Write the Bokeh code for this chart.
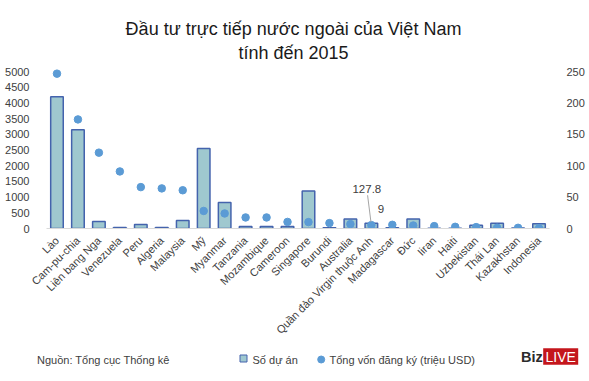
from math import pi
from bokeh.plotting import figure
from bokeh.layouts import column
from bokeh.models import Range1d, LinearAxis, FixedTicker, FactorRange, ColumnDataSource
from bokeh.transform import dodge
from bokeh.core.properties import value
from bokeh.embed import file_html
from bokeh.resources import INLINE

# ---------------- data ----------------
categories = ["Lào", "Cam-pu-chia", "Liên bang Nga", "Venezuela", "Peru", "Algeria",
              "Malaysia", "Mỹ", "Myanmar", "Tanzania", "Mozambique", "Cameroon",
              "Singapore", "Burundi", "Australia", "Quần đảo Virgin thuộc Anh",
              "Madagascar", "Đức", "Iiran", "Haiti", "Uzbekistan", "Thái Lan",
              "Kazakhstan", "Indonesia"]
so_du_an = [4200, 3150, 225, 30, 125, 30, 255, 2550, 830, 65, 65, 65,
            1200, 20, 300, 170, 20, 300, 10, 10, 100, 170, 15, 150]
tong_von = [247, 174, 121, 91, 66, 64, 61, 28, 24, 17.6, 17.6, 10.5,
            10.2, 8.6, 7.0, 5.4, 5.9, 4.8, 3.8, 2.7, 2.2, 1.1, 1.1, 0.5]
left_ticks = [0, 500, 1000, 1500, 2000, 2500, 3000, 3500, 4000, 4500, 5000]
right_ticks = [0, 50, 100, 150, 200, 250]
title_lines = ["Đầu tư trực tiếp nước ngoài của Việt Nam", "tính đến 2015"]
source_text = "Nguồn: Tổng cục Thống kê"
legend_labels = ["Số dự án", "Tổng vốn đăng ký (triệu USD)"]
annot_cat = "Quần đảo Virgin thuộc Anh"
annot_texts = ["127.8", "9"]

# ---------------- styles ----------------
FONT = "Liberation Sans"
BAR_FILL = "#9fc8cf"
BAR_LINE = "#4463ad"
DOT = "#5b9bd5"
TXT = "#404040"
W = 589
HEAD_H = 64
FOOT_H = 36

# ---------------- header ----------------
h = figure(width=W, height=HEAD_H, x_range=Range1d(0, W), y_range=Range1d(HEAD_H, 0),
           min_border=0, output_backend="svg", toolbar_location=None,
           x_axis_type=None, y_axis_type=None, frame_align=False)
h.outline_line_color = None
h.text(x=[293, 293], y=[28, 52.5], text=title_lines, text_align="center",
       text_baseline="alphabetic", text_font=value(FONT), text_font_size="18px",
       text_color="#1a1a1a")

# ---------------- main chart ----------------
p = figure(x_range=FactorRange(*categories), y_range=Range1d(0, 5200),
           frame_width=503, frame_height=163, output_backend="svg",
           toolbar_location=None, min_border_left=46, min_border_right=40,
           min_border_top=1, min_border_bottom=117, frame_align=False)
p.extra_y_ranges = {"right": Range1d(0, 260)}
p.add_layout(LinearAxis(y_range_name="right"), "right")

p.vbar(x=categories, top=so_du_an, width=0.6, fill_color=BAR_FILL,
       line_color=BAR_LINE, line_width=1.5)
p.scatter(x=categories, y=tong_von, y_range_name="right", size=7.5,
          fill_color=DOT, line_color=DOT)

idx = categories.index(annot_cat)
src = ColumnDataSource(dict(x=[annot_cat], y0=[53.0], y1=[10.5]))
p.segment(x0=dodge("x", -0.18, range=p.x_range), y0="y0",
          x1=dodge("x", -0.02, range=p.x_range), y1="y1",
          source=src, y_range_name="right", line_color="#a6a6a6", line_width=1)
p.text(x=[annot_cat, annot_cat], y=[tong_von[idx], tong_von[idx]], text=annot_texts,
       x_offset=[-4.5, 9.5], y_offset=[-36, -16.5], y_range_name="right",
       text_align="center", text_baseline="middle", text_font=value(FONT),
       text_font_size="11.5px", text_color=TXT)

p.yaxis[0].ticker = FixedTicker(ticks=left_ticks)
p.yaxis[1].ticker = FixedTicker(ticks=right_ticks)
for ax in p.yaxis:
    ax.axis_line_color = None
    ax.major_tick_line_color = None
    ax.minor_tick_line_color = None
    ax.major_label_text_font = FONT
    ax.major_label_text_font_size = "11px"
    ax.major_label_text_color = TXT
    ax.major_label_standoff = 11
xa = p.xaxis[0]
xa.axis_line_color = "#d9d9d9"
xa.major_tick_line_color = None
xa.minor_tick_line_color = None
xa.major_label_orientation = pi / 4
xa.major_label_standoff = 4
xa.major_label_text_font = FONT
xa.major_label_text_font_size = "11px"
xa.major_label_text_color = TXT
p.grid.visible = False
p.outline_line_color = None

# ---------------- footer ----------------
f = figure(width=W, height=FOOT_H, x_range=Range1d(0, W), y_range=Range1d(FOOT_H, 0),
           min_border=0, output_backend="svg", toolbar_location=None,
           x_axis_type=None, y_axis_type=None, frame_align=False)
f.outline_line_color = None
f.text(x=[36.5], y=[14], text=[source_text], text_baseline="middle",
       text_font=value(FONT), text_font_size="11px", text_color=TXT)
f.scatter(x=[243], y=[13], marker="square", size=7, fill_color=BAR_FILL,
          line_color=BAR_LINE, line_width=1)
f.scatter(x=[320.7], y=[14], size=7, fill_color=DOT, line_color=DOT)
f.text(x=[252, 329], y=[14, 14], text=legend_labels, text_baseline="middle",
       text_font=value(FONT), text_font_size="11px", text_color=TXT)
f.quad(left=[542.7], right=[577.7], top=[2.7], bottom=[19.3],
       fill_color="#c4161c", line_color=None)
f.text(x=[542.2], y=[11.5], text=["Biz"], text_align="right", text_baseline="middle",
       text_font=value(FONT), text_font_style="bold",
       text_font_size="14.5px", text_color="#2b2b2b")
f.text(x=[560.2], y=[11.5], text=["LIVE"], text_align="center", text_baseline="middle",
       text_font=value(FONT), text_font_size="14px", text_color="white")

layout = column(h, p, f, spacing=0)
open("out.html", "w").write(file_html(layout, INLINE))
